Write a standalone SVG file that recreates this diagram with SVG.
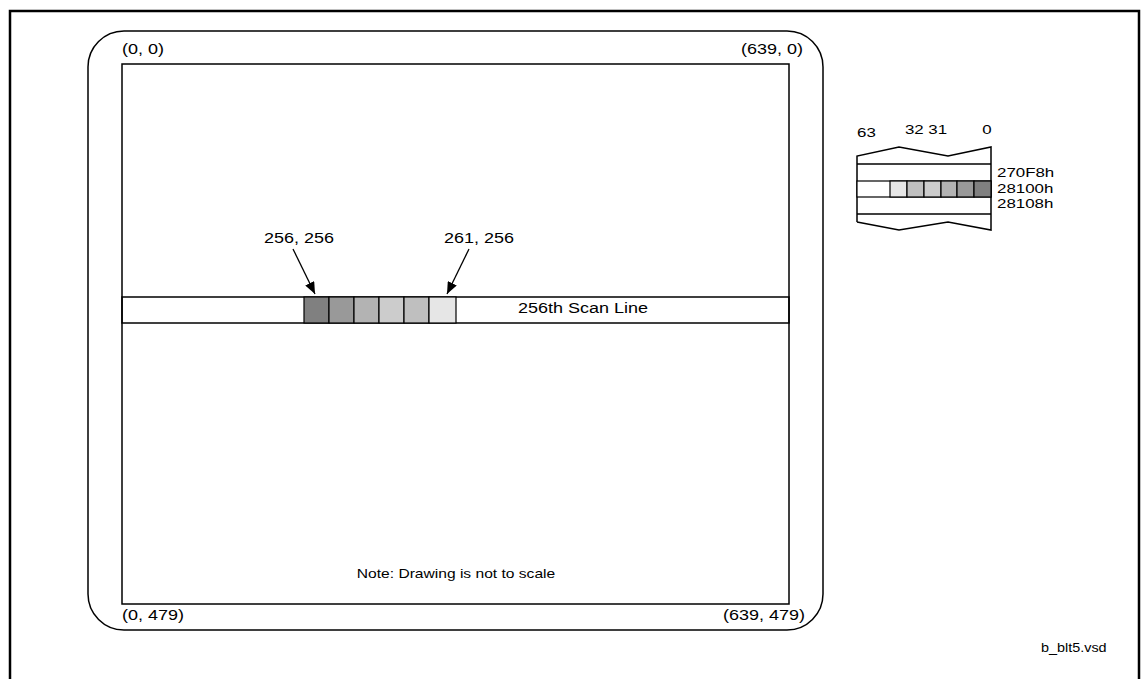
<svg xmlns="http://www.w3.org/2000/svg" width="1142" height="679" viewBox="0 0 1142 679">
<style>
text{font-family:"Liberation Sans",Arial,sans-serif;font-size:15px;fill:#000}
.sm{font-size:12px}
.md{font-size:13px}
.ln{fill:none;stroke:#000;stroke-width:1.5}
.cell{stroke:#000;stroke-width:1.2}
</style>
<defs>
<marker id="ah" viewBox="0 0 12 10" refX="12" refY="5" markerWidth="12" markerHeight="10" markerUnits="userSpaceOnUse" orient="auto">
<path d="M0,0 L12,5 L0,10 Z" fill="#000"/>
</marker>
</defs>
<rect width="1142" height="679" fill="#fff"/>
<g id="frame">
<path d="M10,679 V11 H1139 V679" fill="none" stroke="#000" stroke-width="2.5"/>
</g>
<g id="screen">
<rect x="88" y="31" width="735" height="599" rx="36" ry="36" class="ln"/>
<rect x="122" y="64" width="667" height="540" class="ln"/>
<text transform="translate(122 54) scale(1.2 1)">(0, 0)</text>
<text transform="translate(803 54) scale(1.2 1)" text-anchor="end">(639, 0)</text>
<text transform="translate(122 620) scale(1.2 1)">(0, 479)</text>
<text transform="translate(805 620) scale(1.2 1)" text-anchor="end">(639, 479)</text>
<text class="md" transform="translate(456 578) scale(1.2 1)" text-anchor="middle">Note: Drawing is not to scale</text>
</g>
<g id="scanline">
<rect x="122" y="297" width="667" height="26" fill="#fff" class="ln"/>
<rect x="304" y="297" width="25" height="26" fill="#808080" class="cell"/>
<rect x="329" y="297" width="25" height="26" fill="#999999" class="cell"/>
<rect x="354" y="297" width="25" height="26" fill="#b3b3b3" class="cell"/>
<rect x="379" y="297" width="25" height="26" fill="#cccccc" class="cell"/>
<rect x="404" y="297" width="25" height="26" fill="#bfbfbf" class="cell"/>
<rect x="429" y="297" width="27" height="26" fill="#e6e6e6" class="cell"/>
<text transform="translate(518 313) scale(1.2 1)">256th Scan Line</text>
</g>
<g id="labels">
<text transform="translate(299 243) scale(1.2 1)" text-anchor="middle">256, 256</text>
<text transform="translate(479 243) scale(1.2 1)" text-anchor="middle">261, 256</text>
</g>
<g id="connectors">
<line x1="293" y1="249" x2="315" y2="294" stroke="#000" stroke-width="1.3" marker-end="url(#ah)"/>
<line x1="469" y1="249" x2="447" y2="294" stroke="#000" stroke-width="1.3" marker-end="url(#ah)"/>
</g>
<g id="memory">
<path d="M857,222 V156 L899,147 L948,156 L991,147 V230 L948,222 L899,230 L857,222" class="ln" fill="#fff"/>
<line x1="857" y1="164" x2="991" y2="164" class="ln"/>
<line x1="857" y1="214" x2="991" y2="214" class="ln"/>
<rect x="857" y="181" width="134" height="16" fill="#fff" class="cell"/>
<rect x="890" y="181" width="17" height="16" fill="#e6e6e6" class="cell"/>
<rect x="907" y="181" width="17" height="16" fill="#bfbfbf" class="cell"/>
<rect x="924" y="181" width="17" height="16" fill="#cccccc" class="cell"/>
<rect x="941" y="181" width="16" height="16" fill="#b3b3b3" class="cell"/>
<rect x="957" y="181" width="17" height="16" fill="#999999" class="cell"/>
<rect x="974" y="181" width="17" height="16" fill="#808080" class="cell"/>
<text class="md" transform="translate(857 137) scale(1.3 1)">63</text>
<text class="md" transform="translate(926 134) scale(1.3 1)" text-anchor="middle">32 31</text>
<text class="md" transform="translate(987 134) scale(1.3 1)" text-anchor="middle">0</text>
<text class="md" transform="translate(997 177) scale(1.3 1)">270F8h</text>
<text class="md" transform="translate(997 193) scale(1.3 1)">28100h</text>
<text class="md" transform="translate(997 208) scale(1.3 1)">28108h</text>
</g>
<text class="sm" transform="translate(1041 652) scale(1.2 1)">b_blt5.vsd</text>
</svg>
